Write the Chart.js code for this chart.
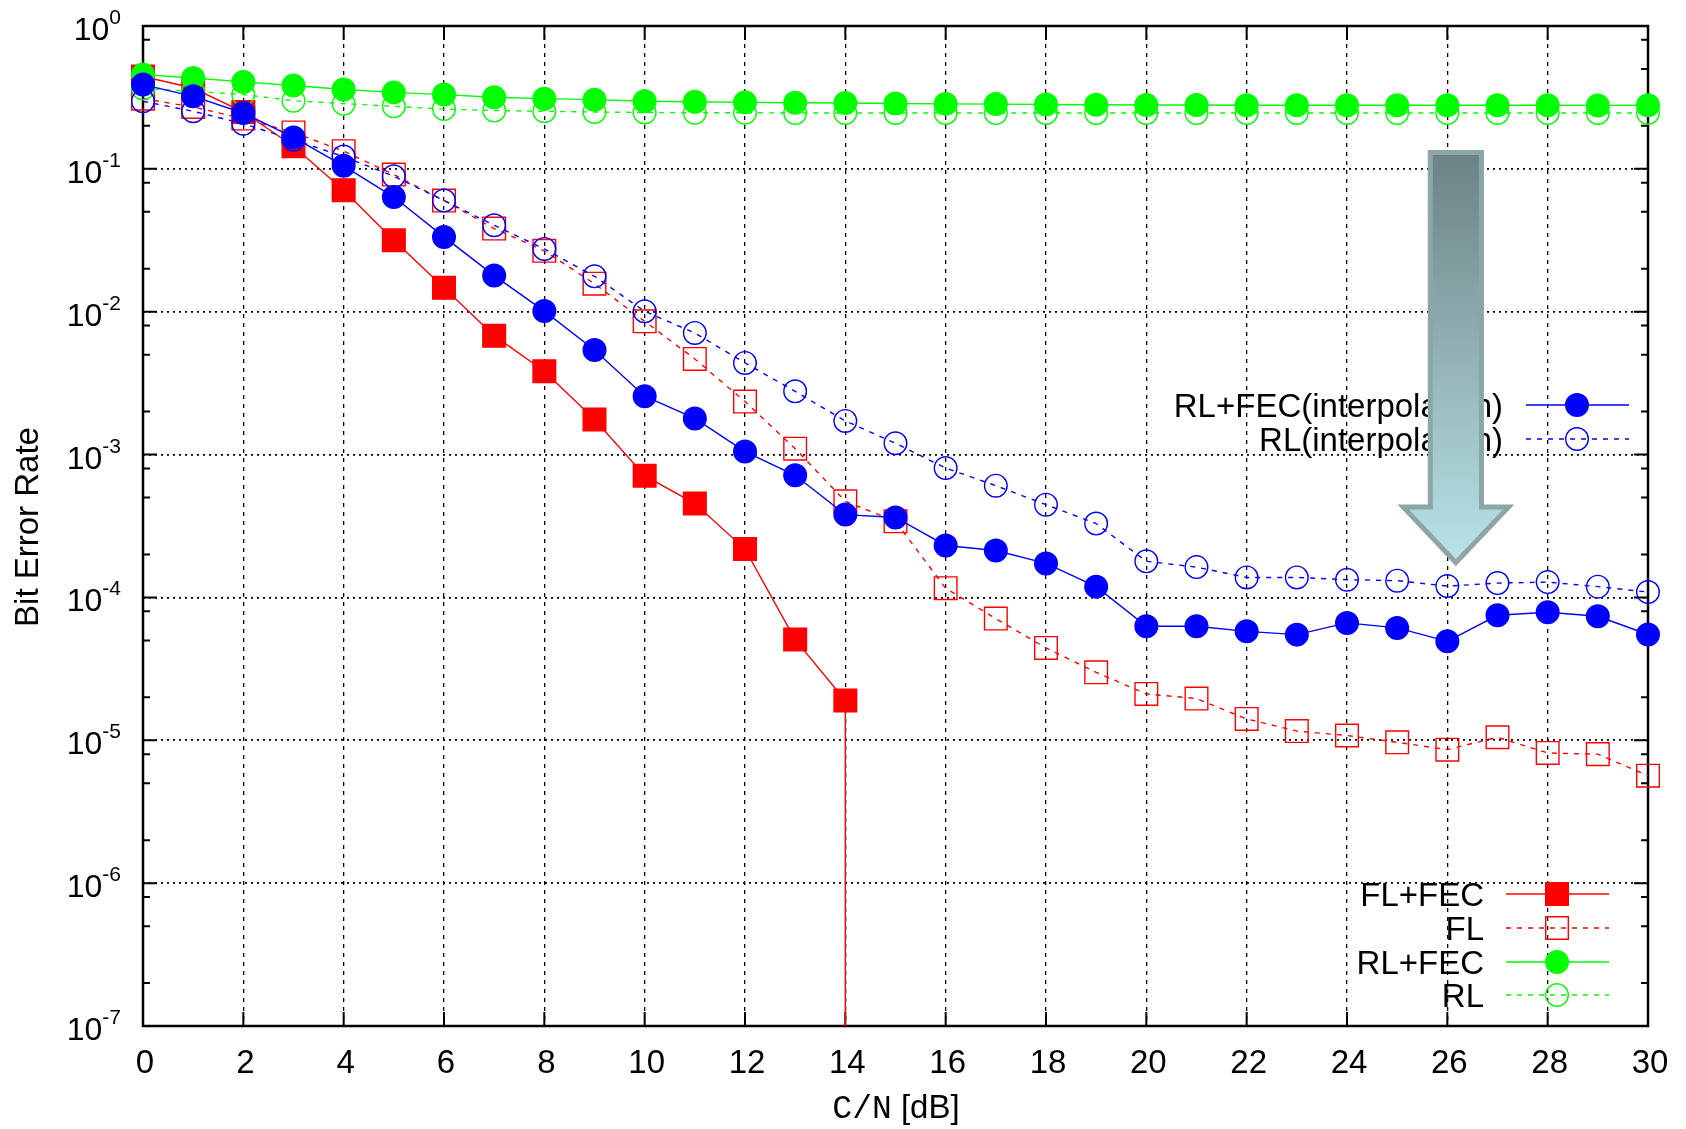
<!DOCTYPE html>
<html>
<head>
<meta charset="utf-8">
<script src="https://cdn.jsdelivr.net/npm/chart.js@4.4.1/dist/chart.umd.min.js"></script>
<style>
html,body{margin:0;padding:0;background:#fff;}
#wrap{width:1686px;height:1129px;}
</style>
</head>
<body>
<div id="wrap"><canvas id="ber" width="1686" height="1129"></canvas></div>
<script>
// C/N [dB] sample points
const xValues = [0,1,2,3,4,5,6,7,8,9,10,11,12,13,14,15,16,17,18,19,20,21,22,23,24,25,26,27,28,29,30];
const xTickValues = [0,2,4,6,8,10,12,14,16,18,20,22,24,26,28,30];
const yTickExponents = [0,-1,-2,-3,-4,-5,-6,-7];
const yMinorMantissas = [2,5,8];

// FL+FEC: no errors past 14 dB, the curve falls to the axis floor
const flFecX = [0,1,2,3,4,5,6,7,8,9,10,11,12,13,14,14];
const flFecValues = [0.443,0.368,0.25,0.144,0.0708,0.0316,0.0147,0.0068,0.00383,0.00176,0.000712,0.000454,0.000218,5.07e-5,1.9e-5,1e-7];

const flValues = [0.31,0.271,0.225,0.18,0.133,0.0912,0.06,0.0382,0.0267,0.0157,0.00857,0.00467,0.00235,0.0011,0.000471,0.000341,0.000116,7.11e-5,4.43e-5,2.99e-5,2.11e-5,1.96e-5,1.41e-5,1.16e-5,1.08e-5,9.68e-6,8.6e-6,1.05e-5,8.15e-6,8.0e-6,5.65e-6];

const rlFecValues = [0.457,0.433,0.406,0.383,0.359,0.343,0.331,0.317,0.31,0.305,0.297,0.295,0.292,0.29,0.289,0.287,0.285,0.284,0.282,0.281,0.28,0.28,0.279,0.279,0.279,0.279,0.279,0.279,0.279,0.278,0.279];

const rlValues = [0.365,0.349,0.331,0.3,0.286,0.274,0.262,0.256,0.253,0.25,0.248,0.247,0.247,0.246,0.246,0.246,0.246,0.246,0.246,0.246,0.246,0.246,0.246,0.246,0.246,0.246,0.246,0.246,0.246,0.246,0.246];

const rlFecInterpValues = [0.389,0.322,0.246,0.166,0.105,0.0635,0.0334,0.0179,0.0101,0.0054,0.00256,0.00179,0.00105,0.000716,0.00038,0.000363,0.000231,0.000213,0.000173,0.000119,6.28e-5,6.28e-5,5.79e-5,5.49e-5,6.63e-5,6.12e-5,4.93e-5,7.5e-5,7.87e-5,7.38e-5,5.5e-5];

const rlInterpValues = [0.297,0.253,0.207,0.16,0.122,0.0887,0.06,0.0403,0.0275,0.0177,0.01007,0.0071,0.00438,0.00277,0.00172,0.0012,0.000805,0.000606,0.000446,0.000329,0.000179,0.000163,0.000138,0.000138,0.000133,0.000131,0.00012,0.000126,0.000128,0.000119,0.000109];

const RED = '#ff0000', GREEN = '#00ff00', BLUE = '#0000ff';
const SANS = '"Liberation Sans", Arial, Helvetica, sans-serif';

function series(label, xs, ys, color, filled, shape, dashed, order) {
  const r = shape === 'rect' ? 16 : 11.3;
  return {
    label: label,
    data: ys.map((v, i) => ({x: xs[i], y: v})),
    borderColor: color,
    borderWidth: 1.4,
    borderDash: dashed ? [5, 6] : [],
    pointStyle: shape,
    pointRadius: ys.map((v, i) => (xs[i] === xs[i - 1] ? 0 : r)),
    pointBorderWidth: 1.4,
    pointBorderColor: color,
    pointBackgroundColor: filled ? color : 'rgba(255,255,255,0)',
    fill: false,
    tension: 0,
    clip: false,
    order: order,
    _shape: shape, _filled: filled, _dashed: dashed
  };
}

const datasets = [
  series('FL+FEC', flFecX, flFecValues, RED, true, 'rect', false, 6),
  series('FL', xValues, flValues, RED, false, 'rect', true, 5),
  series('RL+FEC', xValues, rlFecValues, GREEN, true, 'circle', false, 4),
  series('RL', xValues, rlValues, GREEN, false, 'circle', true, 3),
  series('RL+FEC(interpolation)', xValues, rlFecInterpValues, BLUE, true, 'circle', false, 2),
  series('RL(interpolation)', xValues, rlInterpValues, BLUE, false, 'circle', true, 1)
];

function drawMarker(ctx, ds, x, y) {
  ctx.save();
  ctx.lineWidth = 1.4;
  ctx.strokeStyle = ds.borderColor;
  ctx.fillStyle = ds.borderColor;
  ctx.setLineDash([]);
  ctx.beginPath();
  if (ds._shape === 'rect') ctx.rect(x - 11.3, y - 11.3, 22.6, 22.6);
  else ctx.arc(x, y, 11.3, 0, Math.PI * 2);
  if (ds._filled) ctx.fill();
  ctx.stroke();
  ctx.restore();
}

function legendRow(ctx, ds, textRight, y, x1, x2, mx) {
  ctx.save();
  ctx.font = '33px ' + SANS;
  ctx.fillStyle = '#000';
  ctx.textAlign = 'right';
  ctx.textBaseline = 'alphabetic';
  ctx.fillText(ds.label, textRight, y + 12);
  ctx.strokeStyle = ds.borderColor;
  ctx.lineWidth = 1.4;
  ctx.setLineDash(ds._dashed ? [5, 6] : []);
  ctx.beginPath();
  ctx.moveTo(x1, y); ctx.lineTo(x2, y);
  ctx.stroke();
  ctx.restore();
  drawMarker(ctx, ds, mx, y);
}

const berPlugin = {
  id: 'berDecor',
  beforeDatasetsDraw(chart) {
    const {ctx, chartArea: a, scales: {x, y}} = chart;
    ctx.save();
    ctx.strokeStyle = '#000';
    ctx.lineWidth = 2;
    ctx.beginPath();
    xTickValues.forEach(v => {
      const px = x.getPixelForValue(v);
      ctx.moveTo(px, a.bottom); ctx.lineTo(px, a.bottom - 14);
      ctx.moveTo(px, a.top); ctx.lineTo(px, a.top + 14);
    });
    yTickExponents.forEach(e => {
      const py = y.getPixelForValue(Math.pow(10, e));
      ctx.moveTo(a.left, py); ctx.lineTo(a.left + 14, py);
      ctx.moveTo(a.right, py); ctx.lineTo(a.right - 14, py);
    });
    yTickExponents.slice(1).forEach(e => {
      yMinorMantissas.forEach(m => {
        const py = y.getPixelForValue(m * Math.pow(10, e));
        ctx.moveTo(a.left, py); ctx.lineTo(a.left + 7, py);
        ctx.moveTo(a.right, py); ctx.lineTo(a.right - 7, py);
      });
    });
    ctx.stroke();
    ctx.lineWidth = 2.5;
    ctx.strokeRect(a.left, a.top, a.right - a.left, a.bottom - a.top);
    ctx.restore();
  },
  afterDraw(chart) {
    const {ctx, chartArea: a, scales: {x, y}} = chart;
    const ds = chart.data.datasets;
    ctx.save();
    ctx.fillStyle = '#000';

    // x tick labels
    ctx.font = '33px ' + SANS;
    ctx.textAlign = 'center';
    ctx.textBaseline = 'alphabetic';
    xTickValues.forEach(v => ctx.fillText(String(v), x.getPixelForValue(v) + 2, 1073));

    // y tick labels 10^n
    yTickExponents.forEach(e => {
      const py = y.getPixelForValue(Math.pow(10, e));
      const sup = String(e);
      ctx.font = '21px ' + SANS;
      const supW = ctx.measureText(sup).width;
      ctx.font = '32px ' + SANS;
      const mainW = ctx.measureText('10').width;
      const right = 121;
      ctx.textAlign = 'left';
      ctx.fillText('10', right - supW - mainW, py + 14);
      ctx.font = '21px ' + SANS;
      ctx.fillText(sup, right - supW, py - 2);
    });

    // axis titles
    ctx.save();
    ctx.translate(38, 527);
    ctx.rotate(-Math.PI / 2);
    ctx.font = '33px ' + SANS;
    ctx.textAlign = 'center';
    ctx.fillText('Bit Error Rate', 0, 0);
    ctx.restore();

    ctx.font = '33px "Liberation Mono", "DejaVu Sans Mono", monospace';
    const monoPart = 'C/N';
    const wMono = ctx.measureText(monoPart).width;
    ctx.font = '33px ' + SANS;
    const sansPart = ' [dB]';
    const wSans = ctx.measureText(sansPart).width;
    const startX = 896 - (wMono + wSans) / 2;
    ctx.textAlign = 'left';
    ctx.font = '33px "Liberation Mono", "DejaVu Sans Mono", monospace';
    ctx.fillText(monoPart, startX, 1118);
    ctx.font = '33px ' + SANS;
    ctx.fillText(sansPart, startX + wMono, 1118);
    ctx.restore();

    // legends
    legendRow(ctx, ds[4], 1503, 405, 1526, 1629, 1577);
    legendRow(ctx, ds[5], 1503, 439, 1526, 1629, 1577);
    legendRow(ctx, ds[0], 1484, 894, 1506, 1609, 1557);
    legendRow(ctx, ds[1], 1484, 928, 1506, 1609, 1557);
    legendRow(ctx, ds[2], 1484, 962, 1506, 1609, 1557);
    legendRow(ctx, ds[3], 1484, 995, 1506, 1609, 1557);

    // arrow pointing down towards the lower curves
    const cx = x.getPixelForValue(26.17);
    const sh = x.getPixelForValue(26.17 + 0.51) - cx;
    const hh = x.getPixelForValue(26.17 + 1.05) - cx;
    const top = y.getPixelForValue(0.13);
    const base = y.getPixelForValue(4.3e-4);
    const tip = y.getPixelForValue(1.75e-4);
    ctx.save();
    const g = ctx.createLinearGradient(0, top, 0, tip);
    g.addColorStop(0, '#6b8284');
    g.addColorStop(1, '#b9e3e7');
    ctx.beginPath();
    ctx.moveTo(cx - sh, top);
    ctx.lineTo(cx + sh, top);
    ctx.lineTo(cx + sh, base);
    ctx.lineTo(cx + hh, base);
    ctx.lineTo(cx, tip);
    ctx.lineTo(cx - hh, base);
    ctx.lineTo(cx - sh, base);
    ctx.closePath();
    ctx.fillStyle = g;
    ctx.fill();
    ctx.lineWidth = 5;
    ctx.lineJoin = 'miter';
    ctx.strokeStyle = '#8ca6a8';
    ctx.stroke();
    ctx.restore();
  }
};

new Chart(document.getElementById('ber'), {
  type: 'line',
  data: {datasets: datasets},
  options: {
    responsive: false,
    animation: false,
    events: [],
    layout: {padding: {left: 143, right: 38, top: 26, bottom: 103}, autoPadding: false},
    plugins: {legend: {display: false}, tooltip: {enabled: false}},
    scales: {
      x: {
        type: 'linear', min: 0, max: 30,
        ticks: {display: false, stepSize: 2},
        grid: {color: '#000', lineWidth: 1.3, drawTicks: false},
        border: {display: false, dash: [4, 5]}
      },
      y: {
        type: 'logarithmic', min: 1e-7, max: 1,
        ticks: {display: false},
        grid: {color: '#000', lineWidth: 1.8, drawTicks: false},
        border: {display: false, dash: [2, 4]},
        afterBuildTicks: s => { s.ticks = yTickExponents.map(e => ({value: Math.pow(10, e)})); }
      }
    }
  },
  plugins: [berPlugin]
});
</script>
</body>
</html>
